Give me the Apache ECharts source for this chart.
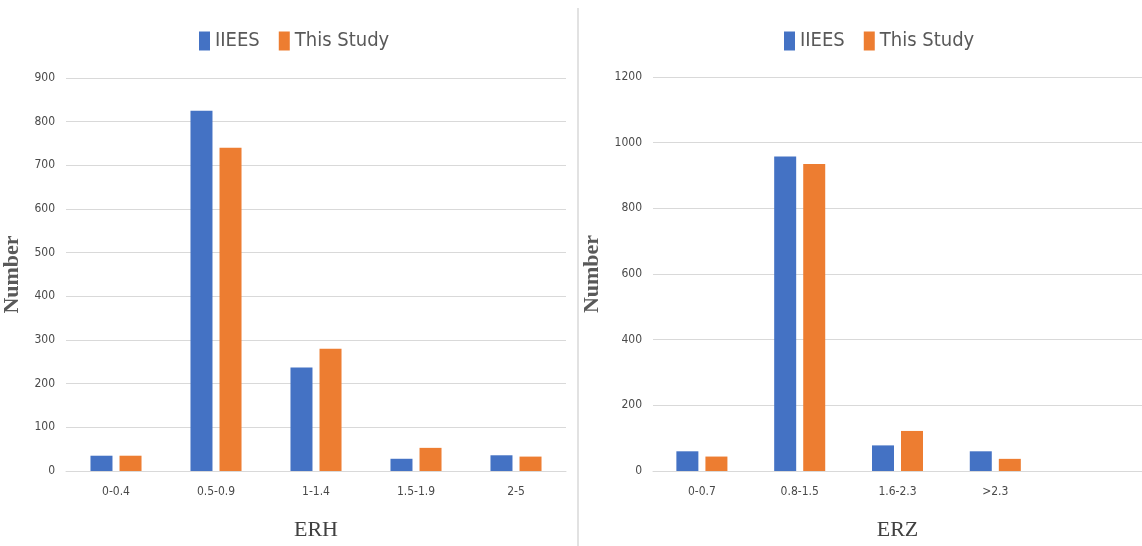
<!DOCTYPE html>
<html>
<head>
<meta charset="utf-8">
<script src="https://cdn.jsdelivr.net/npm/echarts@6/dist/echarts.min.js"></script>
<style>
  html, body { margin: 0; padding: 0; background: #ffffff; }
  #chart { width: 1142px; height: 546px; }
</style>
</head>
<body>
<div id="chart"></div>
<script>
// ERH classes (left panel)
const erhCategories = ['0-0.4', '0.5-0.9', '1-1.4', '1.5-1.9', '2-5'];
const erhIIEES = [35, 825, 237, 28, 36];
const erhThisStudy = [35, 740, 280, 53, 33];

// ERZ classes (right panel); the last slot is left empty
const erzCategories = ['0-0.7', '0.8-1.5', '1.6-2.3', '>2.3', ''];
const erzIIEES = [60, 958, 78, 60, null];
const erzThisStudy = [44, 935, 122, 37, null];

const seriesNames = ['IIEES', 'This Study'];
const seriesColors = ['#4472C4', '#ED7D31'];

const sansFont = "'Liberation Sans Narrow', 'DejaVu Sans Condensed', sans-serif";
const serifFont = "'Liberation Serif', 'DejaVu Serif', serif";
const textGray = '#595959';
const gridGray = '#d9d9d9';

function xAxisFor(gridIndex, cats, title) {
  return {
    type: 'category', gridIndex, data: cats,
    axisTick: { show: false },
    axisLine: { lineStyle: { color: gridGray, width: 1 } },
    axisLabel: { color: '#4a4a4a', fontFamily: sansFont, fontSize: 12, margin: 15 },
    name: title, nameLocation: 'middle', nameGap: 48,
    nameTextStyle: { fontFamily: serifFont, fontSize: 22, color: '#404040' }
  };
}

function yAxisFor(gridIndex, max, interval, nameGap) {
  return {
    type: 'value', gridIndex, min: 0, max, interval,
    axisLine: { show: false }, axisTick: { show: false },
    splitLine: { lineStyle: { color: gridGray, width: 1 } },
    axisLabel: {
      color: '#4a4a4a', fontFamily: sansFont, fontSize: 12, margin: 11,
      formatter: (v) => String(v)
    },
    name: 'Number', nameLocation: 'middle', nameGap,
    nameTextStyle: { fontFamily: serifFont, fontSize: 22, fontWeight: 'bold', color: textGray }
  };
}

function barSeries(name, color, xi, yi, data) {
  return {
    type: 'bar', name, data, xAxisIndex: xi, yAxisIndex: yi,
    barWidth: 22, barGap: '32%',
    itemStyle: { color },
    emphasis: { disabled: true }
  };
}

function legendAt(left) {
  return {
    left, top: 31, padding: 0, itemWidth: 11, itemHeight: 19, itemGap: 19,
    icon: 'rect', data: seriesNames,
    textStyle: { color: textGray, fontFamily: sansFont, fontSize: 20 }
  };
}

const chart = echarts.init(document.getElementById('chart'), null, { renderer: 'canvas' });
chart.setOption({
  animation: false,
  backgroundColor: '#ffffff',
  color: seriesColors,
  legend: [legendAt(199), legendAt(784)],
  grid: [
    { left: 61, right: 576, top: 78, bottom: 71 },
    { left: 653, right: -8, top: 77, bottom: 71 }
  ],
  xAxis: [xAxisFor(0, erhCategories, 'ERH'), xAxisFor(1, erzCategories, 'ERZ')],
  yAxis: [yAxisFor(0, 900, 100, 43), yAxisFor(1, 1200, 200, 50)],
  series: [
    barSeries(seriesNames[0], seriesColors[0], 0, 0, erhIIEES),
    barSeries(seriesNames[1], seriesColors[1], 0, 0, erhThisStudy),
    barSeries(seriesNames[0], seriesColors[0], 1, 1, erzIIEES),
    barSeries(seriesNames[1], seriesColors[1], 1, 1, erzThisStudy)
  ],
  graphic: [{
    type: 'line',
    shape: { x1: 578, y1: 8, x2: 578, y2: 546 },
    style: { stroke: gridGray, lineWidth: 1.5 }
  }]
});
</script>
</body>
</html>
